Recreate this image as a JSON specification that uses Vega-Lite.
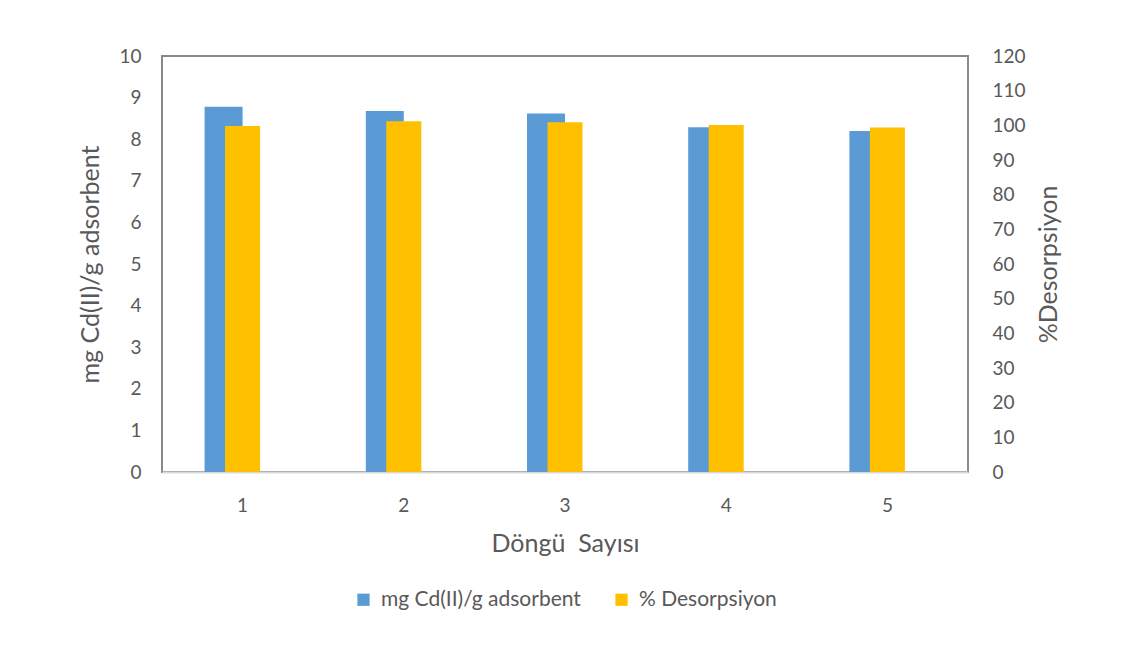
{
  "$schema": "https://vega.github.io/schema/vega-lite/v6.json",
  "width": 806,
  "height": 416,
  "autosize": "none",
  "padding": {"left": 162, "top": 56, "right": 153, "bottom": 174},
  "background": "white",
  "config": {
    "font": "Lato",
    "view": {"stroke": "#898989", "strokeWidth": 2},
    "axis": {"labelColor": "#595959", "titleColor": "#595959", "labelFontSize": 19, "titleFontSize": 25, "titleFontWeight": "normal", "grid": false, "ticks": false, "labelFont": "Lato", "titleFont": "Lato"},
    "legend": {"labelColor": "#595959", "labelFontSize": 21, "labelFont": "Lato", "labelLimit": 400}
  },
  "data": {
    "values": [
      {"cycle": "1", "q": 8.78, "d": 99.8},
      {"cycle": "2", "q": 8.68, "d": 101.2},
      {"cycle": "3", "q": 8.62, "d": 100.9},
      {"cycle": "4", "q": 8.29, "d": 100.1},
      {"cycle": "5", "q": 8.2, "d": 99.4}
    ]
  },
  "encoding": {
    "x": {
      "field": "cycle",
      "type": "ordinal",
      "scale": {"paddingInner": 0, "paddingOuter": 0},
      "axis": {"labelAngle": 0, "title": "Döngü\u00a0 Sayısı", "domainColor": "#d9d9d9", "domainWidth": 2, "labelPadding": 24, "titlePadding": 16}
    }
  },
  "layer": [
    {
      "mark": {"type": "bar", "width": 38, "xOffset": -19},
      "encoding": {
        "y": {
          "field": "q",
          "type": "quantitative",
          "scale": {"domain": [0, 10]},
          "axis": {"orient": "left", "title": "mg Cd(II)/g adsorbent", "values": [0,1,2,3,4,5,6,7,8,9,10], "domain": false, "labelPadding": 21, "titlePadding": 15}
        },
        "color": {
          "datum": "mg Cd(II)/g adsorbent",
          "scale": {"domain": ["mg Cd(II)/g adsorbent", "% Desorpsiyon"], "range": ["#5B9BD5", "#FFC000"]},
          "legend": {"title": null, "orient": "none", "legendX": 191, "legendY": 533, "direction": "horizontal", "symbolType": "square", "symbolSize": 150, "symbolStrokeWidth": 0, "columnPadding": 30, "labelOffset": 7}
        }
      }
    },
    {
      "mark": {"type": "bar", "width": 35, "xOffset": 0},
      "encoding": {
        "y": {
          "field": "d",
          "type": "quantitative",
          "scale": {"domain": [0, 120]},
          "axis": {"orient": "right", "title": "%Desorpsiyon", "titleAngle": -90, "values": [0,10,20,30,40,50,60,70,80,90,100,110,120], "domain": false, "labelPadding": 24, "titlePadding": 36}
        },
        "color": {"datum": "% Desorpsiyon"}
      }
    }
  ],
  "resolve": {"scale": {"y": "independent"}}
}
